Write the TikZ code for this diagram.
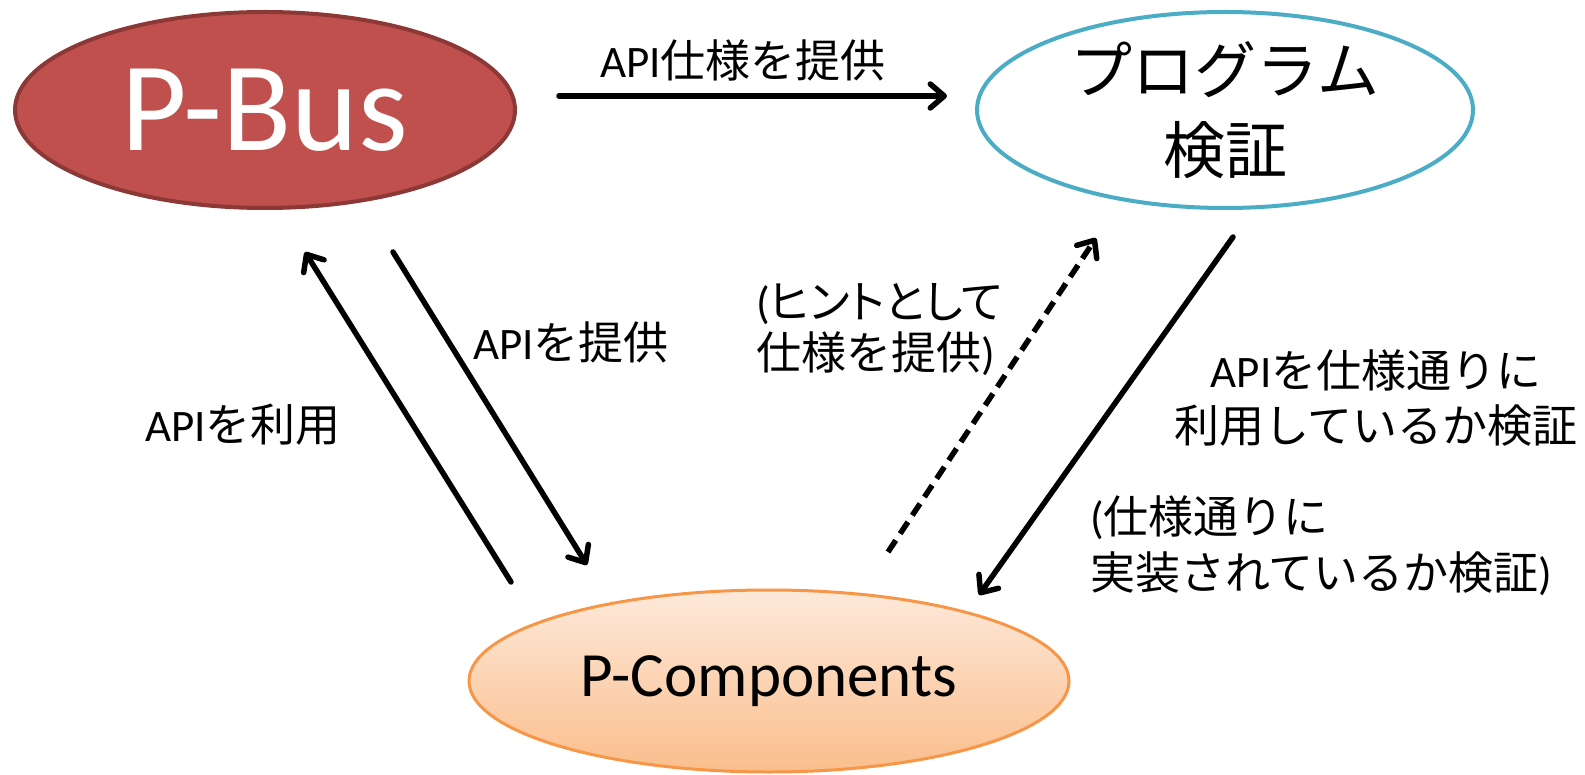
\documentclass[tikz,border=0pt]{standalone}
\usepackage{fontspec}
\setmainfont{Carlito}
\newfontfamily\jpfont{Noto Sans CJK JP}
\newfontfamily\jppropfont[RawFeature=+palt]{Noto Sans CJK JP}
\newcommand\J[1]{{\jpfont #1}}
\newcommand\JP[1]{{\jppropfont #1}}
\usetikzlibrary{arrows.meta,shapes.geometric}

\definecolor{busfill}{HTML}{C0504D}
\definecolor{busline}{HTML}{8C3836}
\definecolor{progline}{HTML}{4BACC6}
\definecolor{compline}{HTML}{F79646}
\definecolor{comptop}{HTML}{FDE9DA}
\definecolor{compbot}{HTML}{FABE8C}

\begin{document}
\begin{tikzpicture}[x=1pt,y=-1pt,
  conn/.style={line width=5.5pt,line cap=round,
    -{Straight Barb[length=14pt,width=24pt,round]}},
  hintconn/.style={conn,dash pattern=on 14pt off 8pt,line cap=butt},
  lbl/.style={inner sep=0pt,font=\fontsize{45}{54}\selectfont},
  blob/.style={ellipse,inner sep=0pt}]
\useasboundingbox (0,0) rectangle (1585,775);
\fill[white] (0,0) rectangle (1585,775);

% the three parties
\node[blob,fill=busfill,draw=busline,line width=4pt,
  minimum width=500pt,minimum height=196pt,text=white,
  font=\fontsize{127}{135}\selectfont] (pbus) at (265,110) {P-Bus};
\node[blob,fill=white,draw=progline,line width=4pt,
  minimum width=496pt,minimum height=196pt,align=center,
  font=\fontsize{62}{80}\selectfont\jpfont] (prog) at (1225,110) {プログラム\\検証};
\node[blob,top color=comptop,bottom color=compbot,draw=compline,line width=3pt,
  minimum width=600pt,minimum height=182pt,
  font=\fontsize{63}{70}\selectfont] (pcomp) at (769,681) {P-Components};

% free ends of the connectors, placed around the parties
\coordinate (a0s) at ([shift={(294,-14)}]pbus.center);
\coordinate (a0e) at ([shift={(-278,-14)}]prog.center);
\coordinate (a1s) at ([shift={(-258,-99)}]pcomp.center);
\coordinate (a1e) at ([shift={(40,142)}]pbus.center);
\coordinate (a2s) at ([shift={(128,142)}]pbus.center);
\coordinate (a2e) at ([shift={(-182,-116)}]pcomp.center);
\coordinate (a3s) at ([shift={(119,-129)}]pcomp.center);
\coordinate (a3e) at ([shift={(-129,128)}]prog.center);
\coordinate (a4s) at ([shift={(8,127)}]prog.center);
\coordinate (a4e) at ([shift={(210,-86)}]pcomp.center);

% connectors
\draw[conn] (a0s) -- (a0e);
\draw[conn] (a1s) -- (a1e);
\draw[conn] (a2s) -- (a2e);
\draw[hintconn] (a3s) -- (a3e);
\draw[conn] (a4s) -- (a4e);

% labels
\node[lbl,anchor=base] (l0) at (743,78) {API\J{仕様を提供}};
\node[lbl,anchor=base] (l1) at (243,441) {API\J{を利用}};
\node[lbl,anchor=base] (l2) at (571,360) {API\J{を提供}};
\node[lbl,anchor=north west,align=left,font=\fontsize{45}{51}\selectfont]
  (l3) at (756,283) {(\JP{ヒントとして}\\\J{仕様を提供})};
\node[lbl,anchor=north,align=center,font=\fontsize{45}{55}\selectfont]
  (l4) at (1376,349) {API\J{を仕様通りに}\\\J{利用しているか検証}};
\node[lbl,anchor=north west,align=left,font=\fontsize{45}{56}\selectfont]
  (l5) at (1090,495) {(\J{仕様通りに}\\\J{実装されているか検証})};
\end{tikzpicture}
\end{document}
